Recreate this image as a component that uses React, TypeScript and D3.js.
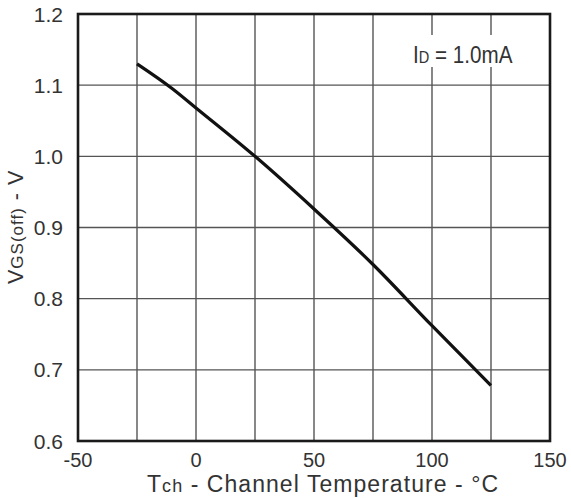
import React from "react";
import * as d3 from "d3";

// Gate-source cutoff voltage versus channel temperature
const temperatures = [-25, -10, 0, 25, 50, 75, 100, 125];
const vgsOff = [1.13, 1.095, 1.068, 1.0, 0.926, 0.848, 0.762, 0.678];

const xTicks = [-50, 0, 50, 100, 150];
const xGrid = [-25, 0, 25, 50, 75, 100, 125];
const yTicks = [0.6, 0.7, 0.8, 0.9, 1.0, 1.1, 1.2];

const W = 571;
const H = 498;
const plot = { left: 78, right: 550, top: 14, bottom: 441 };
const FONT = "'Liberation Sans', Arial, sans-serif";
const TEXT = "#333";

export default function App() {
  const x = d3.scaleLinear().domain([-50, 150]).range([plot.left, plot.right]);
  const y = d3.scaleLinear().domain([0.6, 1.2]).range([plot.bottom, plot.top]);

  const points: [number, number][] = temperatures.map((t, i) => [t, vgsOff[i]]);
  const line = d3
    .line<[number, number]>()
    .x((d) => x(d[0]))
    .y((d) => y(d[1]))
    .curve(d3.curveMonotoneX);

  return (
    <svg
      width={W}
      height={H}
      style={{ position: "absolute", left: 0, top: 0, background: "#fff" }}
      fontFamily={FONT}
    >
      {/* grid */}
      <g stroke="#555" strokeWidth={1.4}>
        {xGrid.map((t) => (
          <line key={"gx" + t} x1={x(t)} x2={x(t)} y1={plot.top} y2={plot.bottom} />
        ))}
        {yTicks.slice(1, -1).map((v) => (
          <line key={"gy" + v} x1={plot.left} x2={plot.right} y1={y(v)} y2={y(v)} />
        ))}
      </g>

      {/* legend box blanks the grid behind it; text drawn slightly condensed */}
      <rect x={404} y={35} width={116} height={32} fill="#fff" />
      <g transform="translate(413,63) scale(0.86,1)">
        <text x={0} y={0} fontSize={24} fill={TEXT}>
          I<tspan fontSize={17}>D</tspan> = 1.0mA
        </text>
      </g>

      {/* curve */}
      <path
        d={line(points) ?? ""}
        fill="none"
        stroke="#111"
        strokeWidth={3.2}
        strokeLinecap="butt"
      />

      {/* frame */}
      <rect
        x={plot.left}
        y={plot.top}
        width={plot.right - plot.left}
        height={plot.bottom - plot.top}
        fill="none"
        stroke="#1a1a1a"
        strokeWidth={2.6}
      />

      {/* y tick labels */}
      {yTicks.map((v) => (
        <text
          key={"yl" + v}
          x={63}
          y={y(v) + 7.5}
          fontSize={21}
          textAnchor="end"
          fill={TEXT}
        >
          {v.toFixed(1)}
        </text>
      ))}

      {/* x tick labels */}
      {xTicks.map((t) => (
        <text
          key={"xl" + t}
          x={x(t)}
          y={466.5}
          fontSize={20}
          textAnchor="middle"
          fill={TEXT}
        >
          {t}
        </text>
      ))}

      {/* axis titles */}
      <text x={147} y={492} fontSize={23} fill={TEXT} letterSpacing={1.05}>
        T<tspan fontSize={18}>ch</tspan> - Channel Temperature - °C
      </text>
      <text
        transform="translate(23,284) rotate(-90)"
        fontSize={21.5}
        fill={TEXT}
        letterSpacing={1}
      >
        V<tspan fontSize={17}>GS(off)</tspan> - V
      </text>
    </svg>
  );
}
